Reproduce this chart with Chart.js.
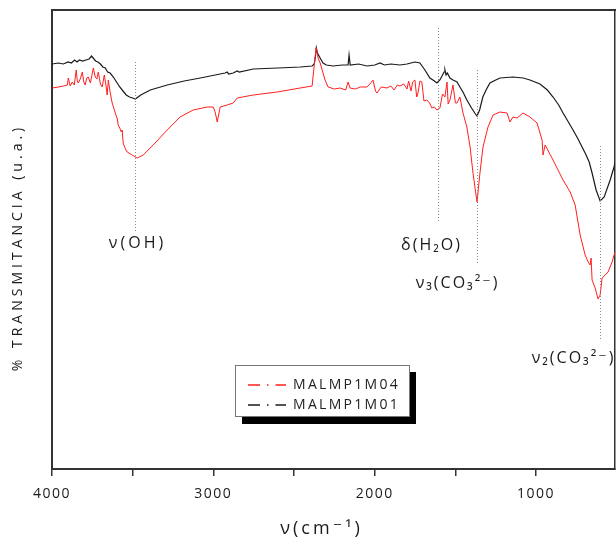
<!DOCTYPE html>
<html><head><meta charset="utf-8">
<script src="https://cdn.jsdelivr.net/npm/chart.js@4/dist/chart.umd.min.js"></script>
<style>html,body{margin:0;padding:0;background:#fff;overflow:hidden}#wrap{width:616px;height:540px;position:relative}</style>
</head><body><div id="wrap"><canvas id="c"></canvas></div>
<script>
// ---- data ----
const seriesNames = ['MALMP1M04', 'MALMP1M01'];
const wnRed = [4000,3960,3930,3905,3899,3887,3874,3862,3850,3843,3837,3825,3812,3803,3794,3785,3775,3762,3744,3732,3722,3713,3700,3689,3676,3665,3658,3651,3640,3627,3608,3595,3590,3580,3571,3565,3559,3545,3534,3503,3472,3435,3373,3286,3206,3125,3038,3001,2989,2976,2964,2958,2915,2877,2852,2753,2605,2462,2388,2376,2363,2351,2338,2308,2289,2250,2215,2180,2165,2153,2120,2090,2048,2030,2011,1995,1986,1960,1924,1900,1880,1860,1844,1820,1800,1790,1775,1765,1751,1740,1732,1720,1708,1695,1677,1660,1646,1630,1615,1596,1580,1565,1552,1545,1534,1515,1500,1490,1472,1453,1429,1409,1391,1366,1348,1329,1298,1267,1224,1180,1162,1143,1118,1081,1038,994,963,957,944,895,833,789,758,727,696,677,665,659,653,634,616,603,591,572,554,529,511];
const tRed = [381,382,383,384,391,383,387,384,399,388,386,390,397,387,384,391,392,386,401,392,390,397,385,382,394,383,374,389,377,366,356,350,344,341,337,339,326,320,317,314,311,314,324,339,352,359,362,362,357,347,357,362,364,366,371,374,377,381,383,402,421,411,406,389,382,380,381,379,387,381,380,382,382,385,389,378,376,382,381,383,379,384,383,385,380,388,378,387,389,372,376,388,387,368,369,366,361,362,359,361,375,372,387,365,369,384,366,366,372,356,342,322,296,267,296,322,342,354,357,356,347,352,351,356,352,346,329,314,324,309,289,277,264,234,214,207,204,211,189,181,170,174,191,194,197,207,217];
const wnBlack = [4000,3960,3930,3900,3880,3860,3845,3830,3810,3790,3770,3755,3745,3730,3715,3700,3685,3670,3655,3640,3620,3600,3580,3560,3540,3520,3500,3484,3450,3391,3286,3181,3081,2958,2927,2915,2905,2877,2852,2840,2753,2600,2462,2388,2375,2368,2362,2355,2345,2335,2320,2300,2258,2200,2165,2159,2152,2100,2048,2000,1967,1940,1900,1844,1800,1751,1720,1689,1658,1630,1615,1596,1580,1570,1565,1558,1550,1534,1515,1490,1472,1450,1429,1400,1380,1366,1350,1330,1310,1286,1250,1224,1143,1080,1038,976,930,895,860,833,800,771,740,715,690,671,653,628,603,578,541,517,511];
const tBlack = [405,406,405,407,406,409,407,409,408,409,410,413,411,408,407,405,402,401,397,396,392,387,382,378,374,372,371,370,374,379,384,388,391,395,396,397,395,396,398,397,400,401,402,403,405,412,421,416,413,410,406,404,403,404,404,414,404,405,403,404,406,404,405,404,405,407,406,399,391,388,386,389,394,397,399,394,396,391,389,387,382,376,369,361,356,353,359,372,379,386,389,391,392,391,389,385,379,372,364,356,347,339,330,322,314,307,296,279,268,272,289,302,306];
const xTickValues = [4000, 3500, 3000, 2500, 2000, 1500, 1000];
const xTickLabels = ['4000', '', '3000', '', '2000', '', '1000'];
const bandWn = [3484, 1607, 1366, 607];
const bandLabels = ['ν(OH)', 'δ(H₂O)', 'ν₃(CO₃²⁻)', 'ν₂(CO₃²⁻)'];

// ---- styling / layout ----
const FONT = "'Open Sans', 'DejaVu Sans', sans-serif";
const bandStyle = [
  {top: 407, bottom: 237, dx: 2,   ty: 226, sp: '3px'},
  {top: 441, bottom: 247, dx: -7,  ty: 224, sp: '2px'},
  {top: 399, bottom: 206, dx: -20, ty: 186, sp: '2px'},
  {top: 323, bottom: 129, dx: -27, ty: 111, sp: '2px'}
];
const toPts = (xs, ys) => xs.map((x, i) => ({x: x, y: ys[i]}));

function wrapText(obj, method, spacing, dx, dy) {
  const key = '_wrapped_' + method;
  if (!obj || obj[key]) return;
  const orig = obj[method];
  obj[method] = function (...args) {
    const c = this.ctx;
    c.save();
    c.letterSpacing = spacing;
    c.translate(dx || 0, dy || 0);
    const r = orig.apply(this, args);
    c.restore();
    return r;
  };
  obj[key] = true;
}

const framePlugin = {
  id: 'frame',
  afterLayout(chart) {
    const lg = chart.legend;
    if (lg) {
      lg.left = 242; lg.top = 372; lg.right = 412; lg.bottom = 422;
      lg.width = 170; lg.height = 50;
      wrapText(lg, 'draw', '2.3px');
    }
    wrapText(chart.scales.x, 'drawLabels', '1.5px', 0, 1);
    wrapText(chart.scales.x, 'drawTitle', '3px', -12, 1);
    wrapText(chart.scales.y, 'drawTitle', '4px', 0, 8);
  },
  beforeDraw(chart) {
    const ctx = chart.ctx;
    // legend frame with shadow
    ctx.save();
    ctx.fillStyle = '#000';
    ctx.fillRect(242, 372, 174, 52);
    ctx.fillStyle = '#fff';
    ctx.fillRect(235, 365, 175, 52);
    ctx.strokeStyle = '#777';
    ctx.lineWidth = 1;
    ctx.strokeRect(235.5, 365.5, 174, 51);
    ctx.restore();
  }
};

const bandPlugin = {
  id: 'bands',
  afterDraw(chart) {
    const ctx = chart.ctx, xs = chart.scales.x, ys = chart.scales.y;
    ctx.save();
    bandWn.forEach((wn, i) => {
      const st = bandStyle[i];
      const px = Math.round(xs.getPixelForValue(wn)) + 0.5;
      ctx.strokeStyle = '#8a8a8a';
      ctx.lineWidth = 1;
      ctx.setLineDash([1, 2]);
      ctx.beginPath();
      ctx.moveTo(px, ys.getPixelForValue(st.top));
      ctx.lineTo(px, ys.getPixelForValue(st.bottom));
      ctx.stroke();
      ctx.setLineDash([]);
      ctx.letterSpacing = st.sp;
      ctx.font = '16px ' + FONT;
      ctx.fillStyle = '#1a1a1a';
      ctx.textAlign = 'center';
      ctx.textBaseline = 'middle';
      ctx.fillText(bandLabels[i], px + st.dx, ys.getPixelForValue(st.ty));
    });
    ctx.restore();
  }
};

new Chart(document.getElementById('c'), {
  type: 'line',
  data: {
    datasets: [
      {label: seriesNames[0], data: toPts(wnRed, tRed), borderColor: '#ff1f1f', borderWidth: 1, pointRadius: 0, tension: 0},
      {label: seriesNames[1], data: toPts(wnBlack, tBlack), borderColor: '#1a1a1a', borderWidth: 1.2, pointRadius: 0, tension: 0}
    ]
  },
  options: {
    responsive: true,
    maintainAspectRatio: false,
    animation: false,
    layout: {padding: 0},
    plugins: {
      tooltip: {enabled: false},
      legend: {
        position: 'chartArea',
        align: 'start',
        labels: {
          usePointStyle: true,
          pointStyleWidth: 38,
          padding: 6,
          color: '#222',
          font: {family: FONT, size: 14},
          generateLabels: (chart) => chart.data.datasets.map((ds, i) => ({
            text: ds.label, fillStyle: ds.borderColor, strokeStyle: ds.borderColor,
            lineWidth: 1.5, lineDash: [12, 7, 1.5, 7], pointStyle: 'line',
            hidden: false, datasetIndex: i, fontColor: '#222'
          }))
        }
      }
    },
    scales: {
      x: {
        type: 'linear', position: 'bottom', reverse: true, min: 511, max: 4000,
        afterBuildTicks: (s) => { s.ticks = xTickValues.map(v => ({value: v})); },
        afterFit: (s) => { s.height = 71; },
        ticks: {
          autoSkip: false, maxRotation: 0, padding: 9, color: '#1a1a1a',
          font: {family: FONT, size: 14},
          callback: (v) => { const i = xTickValues.indexOf(v); return i >= 0 ? xTickLabels[i] : ''; }
        },
        grid: {display: true, drawOnChartArea: false, drawTicks: true, tickLength: 7, color: '#333', lineWidth: 1.5},
        border: {display: true, color: '#333', width: 2},
        title: {display: true, text: 'ν(cm⁻¹)', color: '#1a1a1a', font: {family: FONT, size: 18}, padding: {top: 0, bottom: 1}}
      },
      xTop: {
        type: 'linear', position: 'top', reverse: true, min: 511, max: 4000,
        afterFit: (s) => { s.height = 10; },
        ticks: {display: false},
        grid: {display: false},
        border: {display: true, color: '#333', width: 2}
      },
      y: {
        type: 'linear', position: 'left', min: 0, max: 459,
        afterFit: (s) => { s.width = 52; },
        ticks: {display: false},
        grid: {display: false},
        border: {display: true, color: '#333', width: 2},
        title: {display: true, text: '% TRANSMITANCIA (u.a.)', color: '#1a1a1a', font: {family: FONT, size: 14}, padding: {top: 10, bottom: 0}}
      },
      yRight: {
        type: 'linear', position: 'right', min: 0, max: 459,
        afterFit: (s) => { s.width = 1; },
        ticks: {display: false},
        grid: {display: false},
        border: {display: true, color: '#333', width: 1.5}
      }
    }
  },
  plugins: [framePlugin, bandPlugin]
});
</script>
</body></html>
